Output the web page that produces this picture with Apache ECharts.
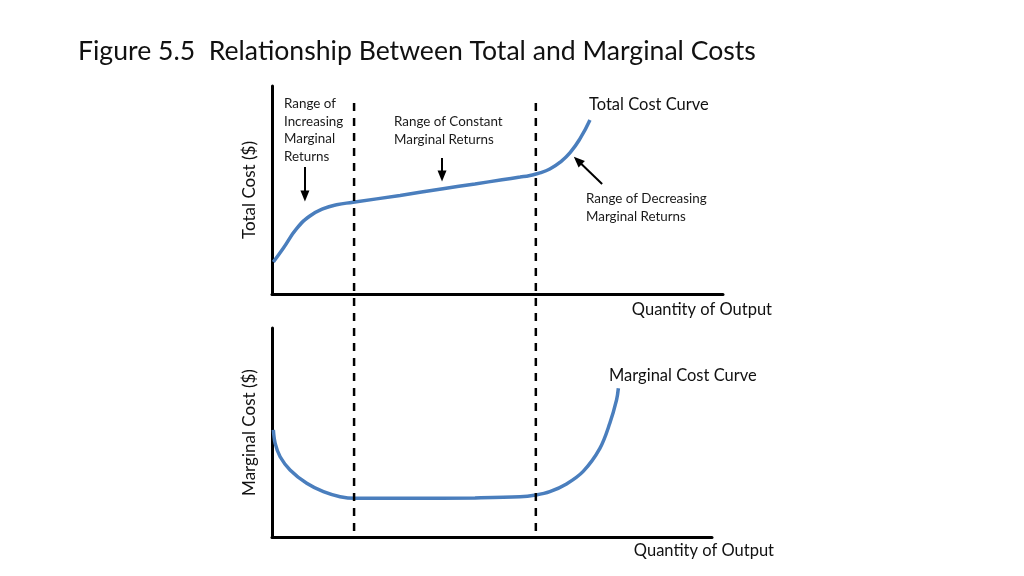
<!DOCTYPE html>
<html><head><meta charset="utf-8">
<script src="https://cdn.jsdelivr.net/npm/echarts@6/dist/echarts.min.js"></script>
<style>html,body{margin:0;padding:0;background:#fff}#c{width:1024px;height:576px}</style>
</head><body><div id="c"></div>
<script>
// Total cost curve (quantity, cost) in chart units
const tcX = [0.3, 2.5, 5.5, 8.4, 11.4, 14.3, 18.0, 28.4, 37.9, 45.0, 51.0, 55.0, 57.2, 59.4, 61.6, 63.9, 66.1, 68.3, 70.5];
const tcY = [15.4, 22.0, 31.5, 37.5, 41.0, 42.9, 44.1, 47.4, 50.6, 52.9, 54.9, 56.2, 57.0, 58.2, 60.1, 63.4, 68.0, 74.7, 83.7];
// Marginal cost curve
const mcX = [0.3, 0.7, 1.8, 4.0, 7.7, 11.4, 15.1, 18.4, 30.0, 45.0, 55.0, 58.5, 61.6, 65.3, 69.0, 72.7, 74.9, 76.4, 76.8];
const mcY = [51.2, 44.8, 38.4, 32.1, 25.7, 21.7, 19.3, 18.5, 18.5, 18.7, 19.2, 20.1, 21.7, 25.4, 31.4, 42.4, 54.4, 65.6, 71.2];
// Range boundaries (quantity)
const dividerX = [18.2, 58.5];
// Arrow annotations on the total-cost panel: [fromX, fromY, toX, toY]
const arrows = [
  [7.3, 61.1, 7.3, 47.1],
  [37.7, 65.4, 37.7, 56.7],
  [73.2, 52.9, 67.8, 64.2]
];
const labels = {
  title: 'Figure 5.5  Relationship Between Total and Marginal Costs',
  xName: 'Quantity of Output',
  tcName: 'Total Cost ($)',
  mcName: 'Marginal Cost ($)',
  tcCurve: 'Total Cost Curve',
  mcCurve: 'Marginal Cost Curve',
  inc: 'Range of\nIncreasing\nMarginal\nReturns',
  con: 'Range of Constant\nMarginal Returns',
  dec: 'Range of Decreasing\nMarginal Returns'
};

const zip = (a, b) => a.map((v, i) => [v, b[i]]);
const FONT = 'Lato, "Open Sans", sans-serif';
const BLUE = '#4A7EBD';
const axisLine = { show: true, onZero: false, lineStyle: { color: '#000', width: 3 } };
const hide = { axisTick: { show: false }, axisLabel: { show: false }, splitLine: { show: false } };

const chart = echarts.init(document.getElementById('c'));
chart.setOption({
  animation: false,
  backgroundColor: '#fff',
  title: {
    text: labels.title, left: 73, top: 33,
    textStyle: { fontFamily: FONT, fontSize: 26.6, fontWeight: 'normal', color: '#111' }
  },
  grid: [
    { left: 272, top: 86, width: 451, height: 208 },
    { left: 272, top: 328, width: 440, height: 209 },
    { left: 272, top: 103, width: 451, height: 428 }
  ],
  xAxis: [
    Object.assign({ gridIndex: 0, type: 'value', min: 0, max: 100, axisLine,
      name: labels.xName, nameLocation: 'end', nameGap: 49,
      nameTextStyle: { fontFamily: FONT, fontSize: 16.5, color: '#111', align: 'right', verticalAlign: 'top', padding: [7, 0, 0, 0] } }, hide),
    Object.assign({ gridIndex: 1, type: 'value', min: 0, max: 440 / 4.51, axisLine,
      name: labels.xName, nameLocation: 'end', nameGap: 62,
      nameTextStyle: { fontFamily: FONT, fontSize: 16.5, color: '#111', align: 'right', verticalAlign: 'top', padding: [5, 0, 0, 0] } }, hide),
    { gridIndex: 2, type: 'value', min: 0, max: 100, show: false }
  ],
  yAxis: [
    Object.assign({ gridIndex: 0, type: 'value', min: 0, max: 100, axisLine,
      name: labels.tcName, nameLocation: 'middle', nameGap: 14,
      nameTextStyle: { fontFamily: FONT, fontSize: 17, color: '#111' } }, hide),
    Object.assign({ gridIndex: 1, type: 'value', min: 0, max: 100, axisLine,
      name: labels.mcName, nameLocation: 'middle', nameGap: 14,
      nameTextStyle: { fontFamily: FONT, fontSize: 17, color: '#111' } }, hide),
    { gridIndex: 2, type: 'value', min: 0, max: 1, show: false }
  ],
  series: [
    {
      type: 'line', name: 'Total Cost', xAxisIndex: 0, yAxisIndex: 0,
      data: zip(tcX, tcY), smooth: 0.5, showSymbol: false, silent: true,
      lineStyle: { color: BLUE, width: 3.5 },
      markLine: {
        silent: true, symbol: ['none', 'triangle'], symbolSize: [9, 11],
        label: { show: false },
        lineStyle: { color: '#000', width: 2, type: 'solid' },
        data: arrows.map(a => [{ coord: [a[0], a[1]] }, { coord: [a[2], a[3]] }])
      }
    },
    {
      type: 'line', name: 'Marginal Cost', xAxisIndex: 1, yAxisIndex: 1,
      data: zip(mcX, mcY), smooth: 0.35, showSymbol: false, silent: true,
      lineStyle: { color: BLUE, width: 3.5 }
    }
  ].concat(dividerX.map((x, i) => ({
    type: 'line', name: 'divider' + i, xAxisIndex: 2, yAxisIndex: 2, z: 5,
    data: [[x, 0], [x, 1]], showSymbol: false, silent: true,
    lineStyle: { color: '#000', width: 2.5, type: [8, 7] }
  }))),
  graphic: [
    { type: 'text', x: 284, y: 95, style: { text: labels.inc, font: '13.4px ' + FONT, fill: '#1a1a1a', lineHeight: 17.5 } },
    { type: 'text', x: 394, y: 113, style: { text: labels.con, font: '13.4px ' + FONT, fill: '#1a1a1a', lineHeight: 18 } },
    { type: 'text', x: 586, y: 190, style: { text: labels.dec, font: '13.4px ' + FONT, fill: '#1a1a1a', lineHeight: 18 } },
    { type: 'text', x: 589, y: 96, style: { text: labels.tcCurve, font: '16.5px ' + FONT, fill: '#111' } },
    { type: 'text', x: 609, y: 367, style: { text: labels.mcCurve, font: '16.5px ' + FONT, fill: '#111' } }
  ]
});
</script></body></html>
